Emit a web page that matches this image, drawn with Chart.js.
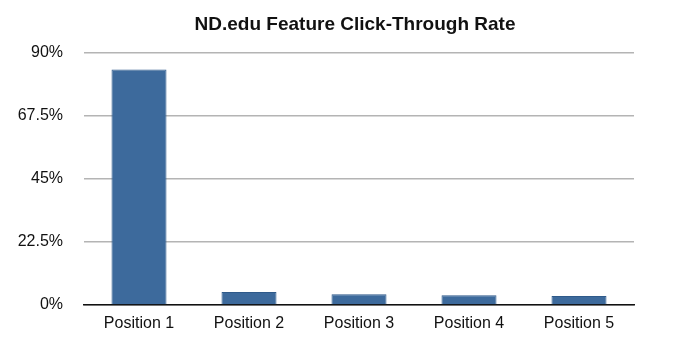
<!DOCTYPE html>
<html>
<head>
<meta charset="utf-8">
<script src="https://cdn.jsdelivr.net/npm/chart.js@4"></script>
<style>
  html, body { margin: 0; padding: 0; background: #fff; }
  #wrap { width: 697px; height: 354px; }
</style>
</head>
<body>
<div id="wrap"><canvas id="ctrChart" width="697" height="354"></canvas></div>
<script>
// data
const positions = ['Position 1', 'Position 2', 'Position 3', 'Position 4', 'Position 5']
const clickRates = [84.1, 4.6, 3.8, 3.5, 3.2]
const yTicks = [0, 22.5, 45, 67.5, 90]
const chartTitle = 'ND.edu Feature Click-Through Rate'

const FONT = 'Liberation Sans, Arial, sans-serif'

// title sits a bit right of the plot centre in the original, so draw it by hand
const titlePlugin = {
    id: 'ownTitle',
    afterDraw(chart) {
        const c = chart.ctx
        c.save()
        c.font = 'bold 19px ' + FONT
        c.fillStyle = '#111'
        c.textAlign = 'center'
        c.textBaseline = 'alphabetic'
        c.fillText(chartTitle, 355, 30)
        c.restore()
    }
}

const ctx = document.getElementById('ctrChart').getContext('2d');
const ctrChart = new Chart(ctx, {
    type: 'bar',
    data: {
        labels: positions,
        datasets: [{
            label: 'Click-Through Rate',
            data: clickRates,
            backgroundColor: '#3d6a9c',
            borderColor: '#2f5a8a',
            borderWidth: 1,
            borderSkipped: 'bottom',
            categoryPercentage: 0.5,
            barPercentage: 1
        }]
    },
    plugins: [titlePlugin],
    options: {
        responsive: false,
        animation: false,
        layout: { padding: { left: 0, right: 63, top: 53, bottom: 0 } },
        plugins: {
            legend: { display: false },
            tooltip: { enabled: false },
            title: { display: false }
        },
        scales: {
            y: {
                min: 0,
                max: 90,
                afterBuildTicks: scale => { scale.ticks = yTicks.map(v => ({ value: v })) },
                afterFit: scale => { scale.width = 84 },
                border: { display: false },
                grid: {
                    drawTicks: false,
                    color: '#b4b4b4',
                    lineWidth: 1.5
                },
                ticks: {
                    padding: 21,
                    color: '#111',
                    font: { family: FONT, size: 16 },
                    callback: v => v + '%'
                }
            },
            x: {
                afterFit: scale => { scale.height = 49 },
                border: { display: true, color: '#111', width: 1.5 },
                grid: { display: false, drawTicks: false },
                ticks: {
                    padding: 9,
                    color: '#111',
                    font: { family: FONT, size: 16 }
                }
            }
        }
    }
});
</script>
</body>
</html>
